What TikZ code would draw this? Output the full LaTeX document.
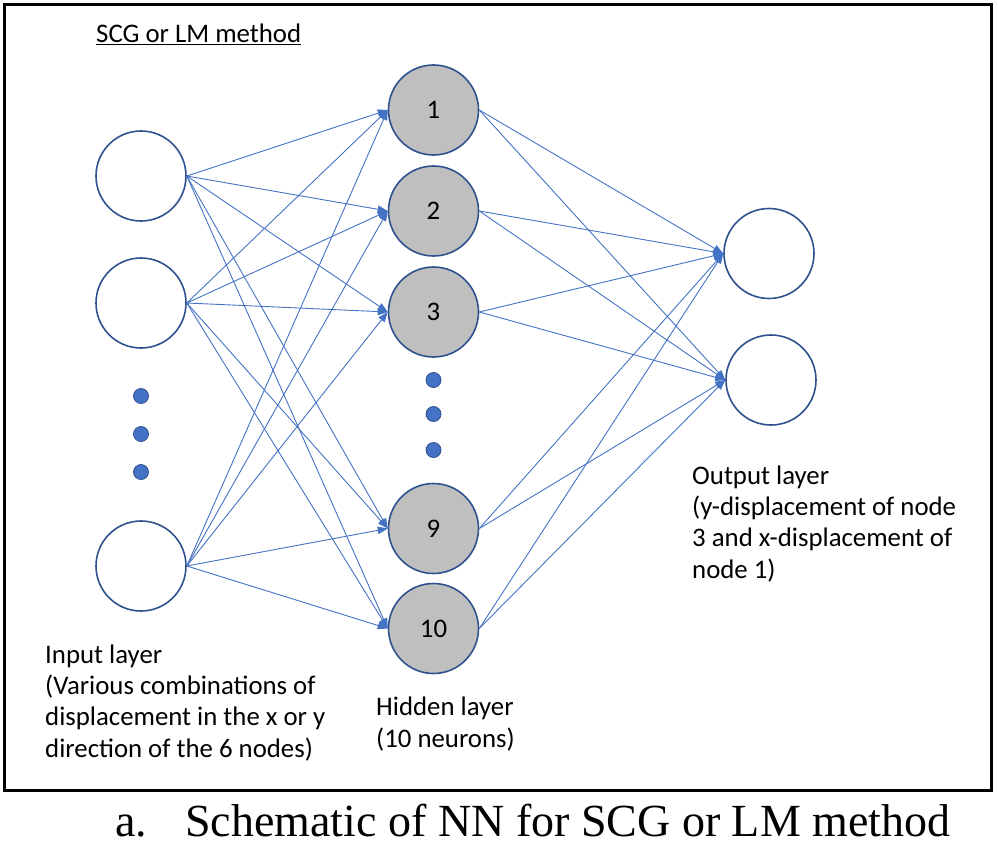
\documentclass[tikz,border=0pt]{standalone}
\usepackage{fontspec}
\setmainfont{Carlito}
\newfontfamily\capfont{Liberation Serif}
\usetikzlibrary{arrows.meta}
\definecolor{lineblue}{RGB}{68,114,196}
\definecolor{ringblue}{RGB}{47,82,143}
\definecolor{fillgray}{RGB}{191,191,191}
\begin{document}
\begin{tikzpicture}[x=1pt,y=-1pt,
  inneuron/.style={circle,draw=ringblue,line width=1.6pt,fill=white,minimum size=90pt,inner sep=0pt},
  hidneuron/.style={inneuron,fill=fillgray,font=\fontsize{26.8}{30}\selectfont},
  link/.style={draw=lineblue,line width=0.9pt,-{Triangle[length=10pt,width=7.5pt]}},
  dotmark/.style={circle,fill=lineblue,draw=ringblue,line width=0.8pt,minimum size=15pt,inner sep=0pt},
  label/.style={anchor=base west,align=left,inner sep=0pt,font=\fontsize{26.8}{31.3}\selectfont}]
\useasboundingbox (0,0) rectangle (998,843);
\draw[line width=2.5pt] (4.5,4.5) rectangle (991.5,790.5);
% title
\node[anchor=base west,inner sep=0pt,font=\fontsize{26.8}{30}\selectfont] (title) at (96,43) {\underline{SCG or LM method}};
% input layer
\node[inneuron] (I1) at (141,176) {};
\node[inneuron] (I2) at (141,303) {};
\node[inneuron] (I4) at (141,566) {};
\node[dotmark] (di1) at (141,396) {};
\node[dotmark] (di2) at (141,434) {};
\node[dotmark] (di3) at (141,472) {};
% hidden layer
\node[hidneuron] (H1) at (433.5,110) {1};
\node[hidneuron] (H2) at (433.5,211) {2};
\node[hidneuron] (H3) at (433.5,312) {3};
\node[hidneuron] (H9) at (433.5,528.5) {9};
\node[hidneuron] (H10) at (433.5,628.5) {10};
\node[dotmark] (dh1) at (433.5,380) {};
\node[dotmark] (dh2) at (433.5,414) {};
\node[dotmark] (dh3) at (433.5,450) {};
% output layer
\node[inneuron] (O1) at (769,253.5) {};
\node[inneuron] (O2) at (771,380) {};
% connections
\foreach \i in {I1,I2,I4}{
  \foreach \h in {H1,H2,H3,H9,H10}{
    \draw[link] (\i.east) -- (\h.west);
  }
}
\foreach \h in {H1,H2,H3,H9,H10}{
  \foreach \o in {O1,O2}{
    \draw[link] (\h.east) -- (\o.west);
  }
}
% labels (base = baseline of last line)
\node[label] (inlab) at (45,757) {Input layer\\(Various combinations of\\displacement in the x or y\\direction of the 6 nodes)};
\node[label] (hidlab) at (376,747) {Hidden layer\\(10 neurons)};
\node[label] (outlab) at (692,578) {Output layer\\(y-displacement of node\\3 and x-displacement of\\node 1)};
% caption
\node[anchor=base west,inner sep=0pt,font=\capfont\fontsize{46}{50}\selectfont] (cap) at (115,836.5) {\makebox[70pt][l]{a.}Schematic of NN for SCG or LM method};
\end{tikzpicture}
\end{document}
